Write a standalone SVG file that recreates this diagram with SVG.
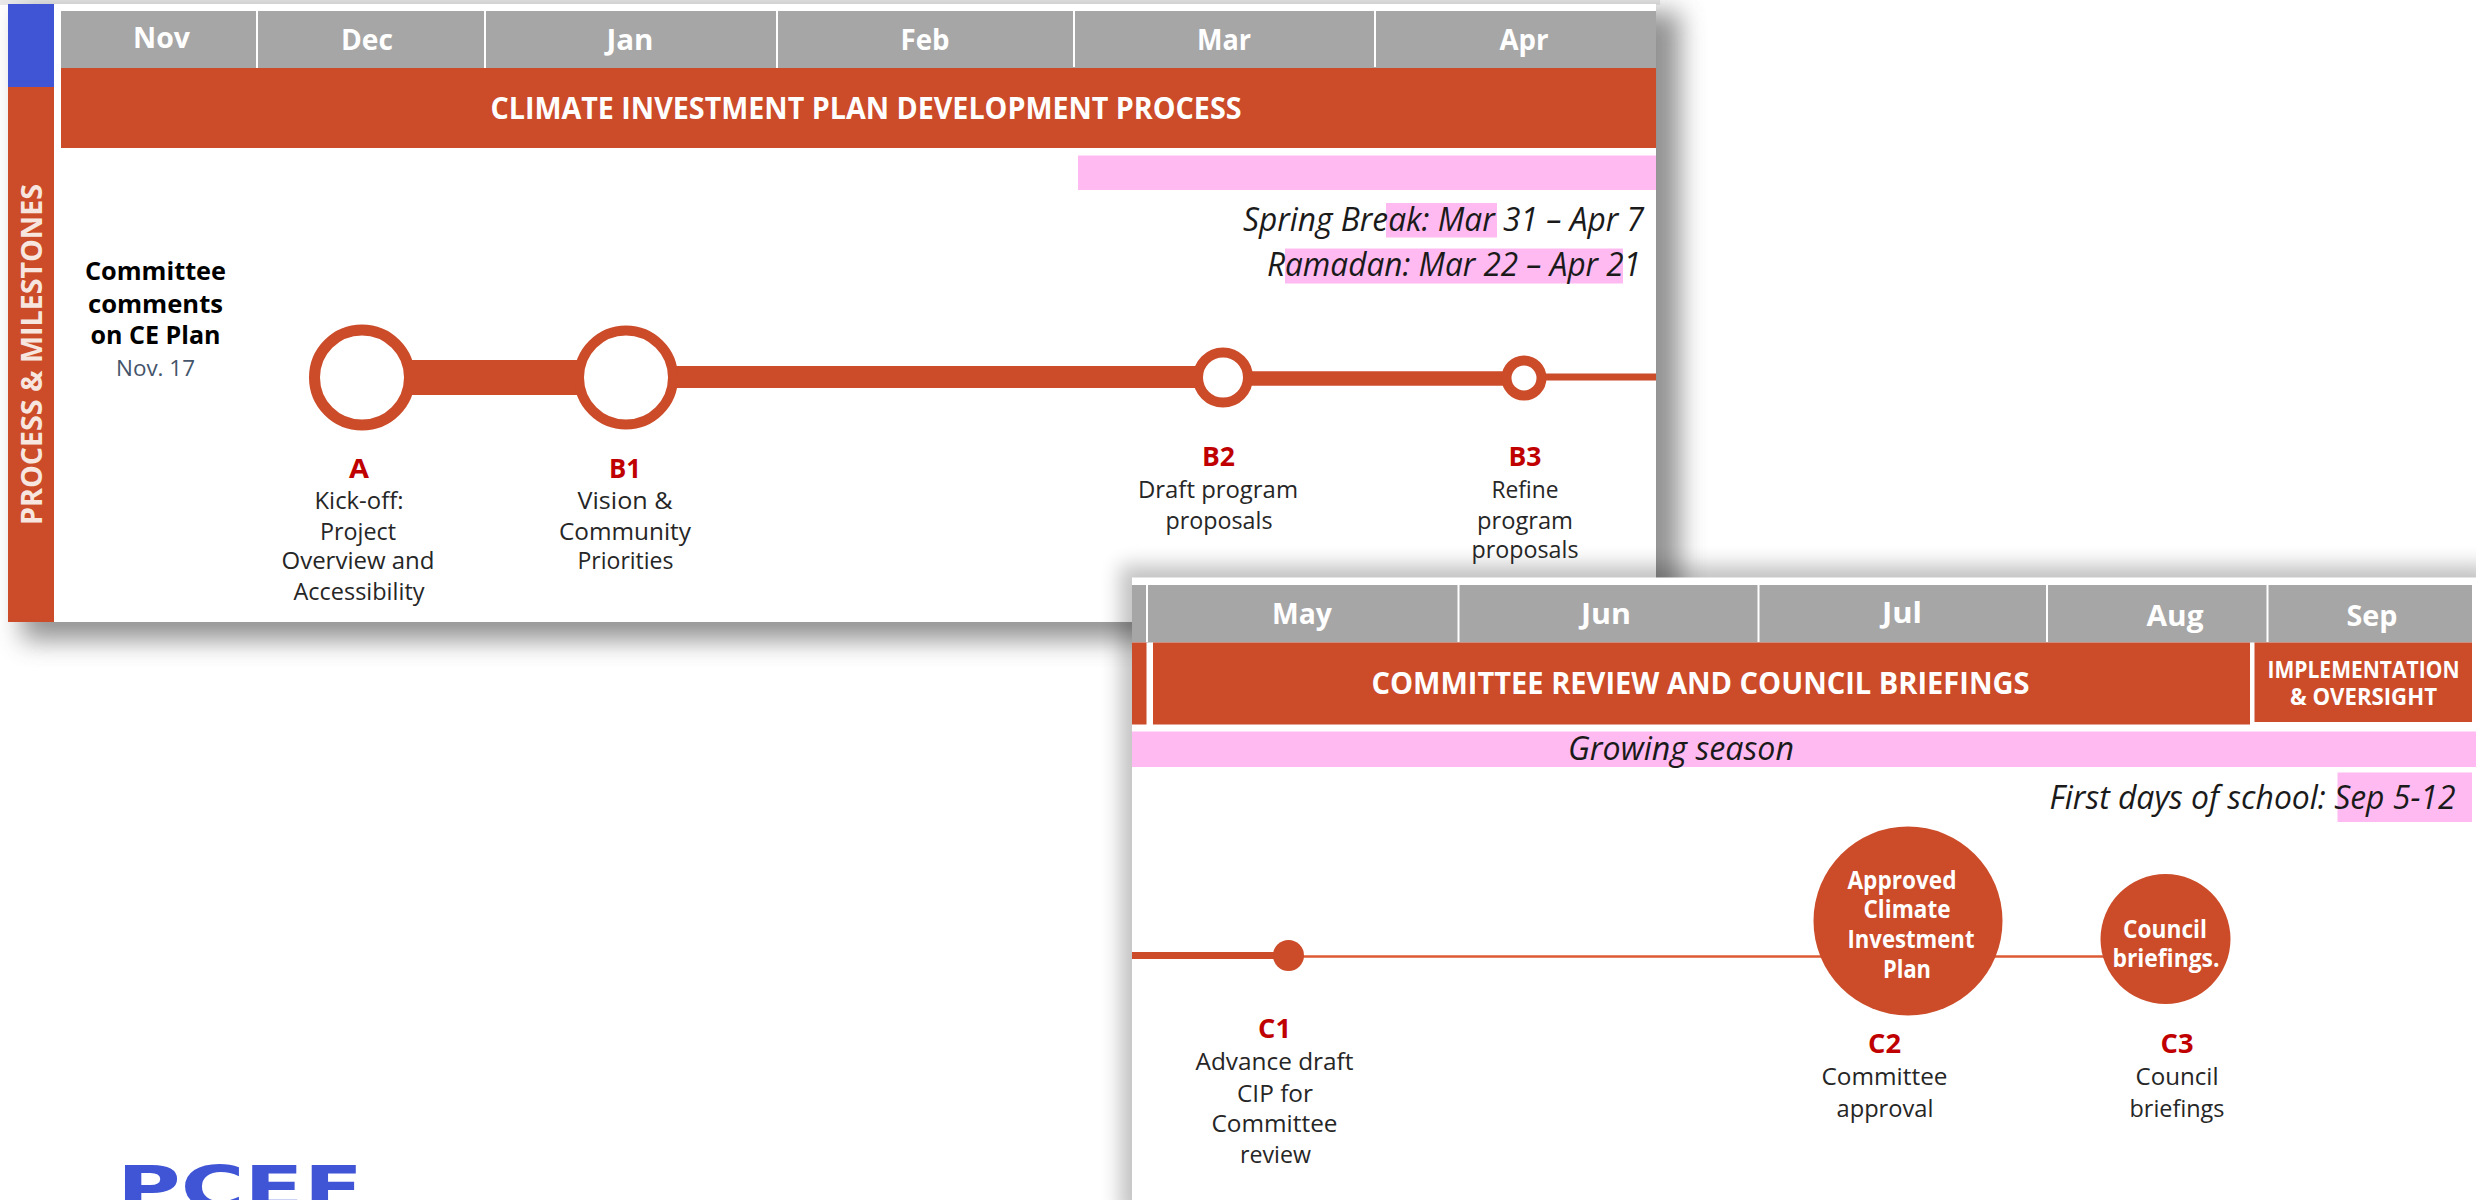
<svg xmlns="http://www.w3.org/2000/svg" width="2476" height="1200" viewBox="0 0 2476 1200">
<defs>
<style>
text{font-family:"Open Sans","Liberation Sans",sans-serif;text-anchor:middle}
.mo{font-size:29px;font-weight:700;fill:#fff}
.hd{font-size:30px;font-weight:700;fill:#fff}
.sm{font-size:22.500px;font-weight:700;fill:#fff}
.it{font-size:33px;font-style:italic;fill:#1a1a1a}
.id{font-size:27px;font-weight:700;fill:#c00000}
.tx{font-size:24px;fill:#262626}
.bk{font-size:25px;font-weight:700;fill:#000}
.ct{font-size:24.500px;font-weight:700;fill:#fff}
.or{fill:#cc4b28}
.gy{fill:#a6a6a6}
.pk{fill:#ffbbf1}
.wl{stroke:#fff;stroke-width:2}
.ring{fill:#fff;stroke:#cc4b28}
</style>
<filter id="sh1" x="-10%" y="-20%" width="120%" height="140%"><feGaussianBlur stdDeviation="13"/></filter>
<filter id="sh2" x="-10%" y="-20%" width="120%" height="140%"><feGaussianBlur stdDeviation="10"/></filter>
</defs>
<rect width="2476" height="1200" fill="#fff"/>

<g id="panel-1">
<rect x="0" y="0" width="1660" height="5" fill="#e9e9e9"/>
<rect x="22" y="12" width="1658" height="628" fill="#777" opacity=".8" filter="url(#sh1)"/>
<rect x="8" y="4" width="1648" height="618" fill="#fff"/>
<rect x="8" y="4" width="46" height="83" fill="#3f55d6"/>
<rect class="or" x="8" y="87" width="46" height="535"/>
<text transform="translate(42 354.500) rotate(-90)" font-size="29" font-weight="700" fill="#f6e6df" textLength="341" lengthAdjust="spacingAndGlyphs">PROCESS &amp; MILESTONES</text>
<rect class="gy" x="61" y="11" width="1595" height="57"/>
<path class="wl" d="M257 11V69M485 11V68M777 11V68M1074 11V67M1375 11V67"/>
<text class="mo" x="161.500" y="47.500" textLength="57" lengthAdjust="spacingAndGlyphs">Nov</text>
<text class="mo" x="367" y="50" textLength="52" lengthAdjust="spacingAndGlyphs">Dec</text>
<text class="mo" x="630" y="50" textLength="47" lengthAdjust="spacingAndGlyphs">Jan</text>
<text class="mo" x="925" y="50" textLength="49" lengthAdjust="spacingAndGlyphs">Feb</text>
<text class="mo" x="1224" y="50" textLength="54" lengthAdjust="spacingAndGlyphs">Mar</text>
<text class="mo" x="1524" y="50" textLength="49" lengthAdjust="spacingAndGlyphs">Apr</text>
<rect class="or" x="61" y="68" width="1595" height="80"/>
<text class="hd" x="866" y="119" textLength="751" lengthAdjust="spacingAndGlyphs">CLIMATE INVESTMENT PLAN DEVELOPMENT PROCESS</text>
<rect class="pk" x="1078" y="155.500" width="578" height="34.500"/>
<rect class="pk" x="1386" y="203" width="111" height="34.500"/>
<rect class="pk" x="1285" y="248.500" width="338" height="35"/>
<text class="it" x="1443.500" y="231" textLength="401" lengthAdjust="spacingAndGlyphs">Spring Break: Mar 31 – Apr 7</text>
<text class="it" x="1454" y="276" textLength="374" lengthAdjust="spacingAndGlyphs">Ramadan: Mar 22 – Apr 21</text>
</g>

<g id="panel-2">
<rect x="1120" y="565" width="1372" height="652" fill="#000" opacity=".24" filter="url(#sh2)"/>
<rect x="1132" y="577.500" width="1344" height="622.500" fill="#fff"/>
<rect class="gy" x="1132" y="585" width="1340" height="57.500"/>
<path class="wl" d="M1147 585V642M1458.500 585V642M1758.500 585V642M2047 585V642M2267.500 585V642"/>
<text class="mo" x="1302" y="624" textLength="60" lengthAdjust="spacingAndGlyphs">May</text>
<text class="mo" x="1606" y="624" textLength="50" lengthAdjust="spacingAndGlyphs">Jun</text>
<text class="mo" x="1902" y="623" textLength="40" lengthAdjust="spacingAndGlyphs">Jul</text>
<text class="mo" x="2175" y="626" textLength="57" lengthAdjust="spacingAndGlyphs">Aug</text>
<text class="mo" x="2372" y="626" textLength="51" lengthAdjust="spacingAndGlyphs">Sep</text>
<rect class="or" x="1132" y="642.500" width="14.500" height="82"/>
<rect class="or" x="1153" y="642.500" width="1097" height="82"/>
<rect class="or" x="2254.500" y="642.500" width="217.500" height="79.500"/>
<text class="hd" x="1700.500" y="694" textLength="658" lengthAdjust="spacingAndGlyphs">COMMITTEE REVIEW AND COUNCIL BRIEFINGS</text>
<text class="sm" x="2363.500" y="678" textLength="192" lengthAdjust="spacingAndGlyphs">IMPLEMENTATION</text>
<text class="sm" x="2363.500" y="704.500" textLength="147" lengthAdjust="spacingAndGlyphs">&amp; OVERSIGHT</text>
<rect class="pk" x="1132" y="731.500" width="1344" height="35.500"/>
<text class="it" x="1681" y="760" font-size="31" textLength="226" lengthAdjust="spacingAndGlyphs">Growing season</text>
<rect class="pk" x="2337.500" y="772.500" width="134.500" height="49.500"/>
<text class="it" x="2252.500" y="809" textLength="406" lengthAdjust="spacingAndGlyphs">First days of school: Sep 5-12</text>
</g>

<g id="connectors" fill="none" stroke="#cc4b28">
<path d="M400 377.500H590" stroke-width="35"/>
<path d="M660 377H1200" stroke-width="22"/>
<path d="M1245 378.500H1510" stroke-width="14.500"/>
<path d="M1535 377H1656" stroke-width="7"/>
<path d="M1132 955.500H1288" stroke-width="7"/>
<path d="M1288 956.500H2110" stroke="#dd5a33" stroke-width="2.500"/>
</g>

<g id="note-committee">
<text class="bk" x="155.500" y="279.500" textLength="141" lengthAdjust="spacingAndGlyphs">Committee</text>
<text class="bk" x="155.500" y="313" textLength="135" lengthAdjust="spacingAndGlyphs">comments</text>
<text class="bk" x="155.500" y="344" textLength="130" lengthAdjust="spacingAndGlyphs">on CE Plan</text>
<text x="155.500" y="375.500" font-size="22" fill="#44546a" textLength="79" lengthAdjust="spacingAndGlyphs">Nov. 17</text>
</g>

<g id="node-A">
<circle class="ring" cx="362" cy="377.500" r="47.500" stroke-width="11"/>
<text class="id" x="359" y="477.500" textLength="20" lengthAdjust="spacingAndGlyphs">A</text>
<text class="tx" x="359" y="509" textLength="89" lengthAdjust="spacingAndGlyphs">Kick-off:</text>
<text class="tx" x="358" y="540" textLength="76" lengthAdjust="spacingAndGlyphs">Project</text>
<text class="tx" x="358" y="569" textLength="153" lengthAdjust="spacingAndGlyphs">Overview and</text>
<text class="tx" x="359" y="600" textLength="131" lengthAdjust="spacingAndGlyphs">Accessibility</text>
</g>

<g id="node-B1">
<circle class="ring" cx="626" cy="377.500" r="47" stroke-width="10"/>
<text class="id" x="625" y="477.500" textLength="32" lengthAdjust="spacingAndGlyphs">B1</text>
<text class="tx" x="625" y="509" textLength="95" lengthAdjust="spacingAndGlyphs">Vision &amp;</text>
<text class="tx" x="625" y="540" textLength="132" lengthAdjust="spacingAndGlyphs">Community</text>
<text class="tx" x="625.500" y="569" textLength="96" lengthAdjust="spacingAndGlyphs">Priorities</text>
</g>

<g id="node-B2">
<circle class="ring" cx="1223" cy="377.500" r="25" stroke-width="10"/>
<text class="id" x="1218.500" y="466" textLength="33" lengthAdjust="spacingAndGlyphs">B2</text>
<text class="tx" x="1218" y="498" textLength="160" lengthAdjust="spacingAndGlyphs">Draft program</text>
<text class="tx" x="1219" y="529" textLength="107" lengthAdjust="spacingAndGlyphs">proposals</text>
</g>

<g id="node-B3">
<circle class="ring" cx="1524" cy="378" r="17.500" stroke-width="10"/>
<text class="id" x="1525" y="466" textLength="33" lengthAdjust="spacingAndGlyphs">B3</text>
<text class="tx" x="1525" y="498" textLength="67" lengthAdjust="spacingAndGlyphs">Refine</text>
<text class="tx" x="1525" y="529" textLength="96" lengthAdjust="spacingAndGlyphs">program</text>
<text class="tx" x="1525" y="558" textLength="107" lengthAdjust="spacingAndGlyphs">proposals</text>
</g>

<g id="node-C1">
<circle class="or" cx="1288.500" cy="955.500" r="15.500"/>
<text class="id" x="1274.500" y="1038" textLength="33" lengthAdjust="spacingAndGlyphs">C1</text>
<text class="tx" x="1274.500" y="1070" textLength="158" lengthAdjust="spacingAndGlyphs">Advance draft</text>
<text class="tx" x="1275" y="1102" textLength="76" lengthAdjust="spacingAndGlyphs">CIP for</text>
<text class="tx" x="1274.500" y="1131.500" textLength="126" lengthAdjust="spacingAndGlyphs">Committee</text>
<text class="tx" x="1275.500" y="1163" textLength="71" lengthAdjust="spacingAndGlyphs">review</text>
</g>

<g id="node-C2">
<circle class="or" cx="1908" cy="921" r="94.500"/>
<text class="ct" x="1902" y="888.500" textLength="109" lengthAdjust="spacingAndGlyphs">Approved</text>
<text class="ct" x="1907" y="918" textLength="87" lengthAdjust="spacingAndGlyphs">Climate</text>
<text class="ct" x="1911" y="948" textLength="127" lengthAdjust="spacingAndGlyphs">Investment</text>
<text class="ct" x="1907" y="977.500" textLength="48" lengthAdjust="spacingAndGlyphs">Plan</text>
<text class="id" x="1884.500" y="1053" textLength="33" lengthAdjust="spacingAndGlyphs">C2</text>
<text class="tx" x="1884.500" y="1085" textLength="126" lengthAdjust="spacingAndGlyphs">Committee</text>
<text class="tx" x="1885" y="1117" textLength="97" lengthAdjust="spacingAndGlyphs">approval</text>
</g>

<g id="node-C3">
<circle class="or" cx="2165.500" cy="939" r="65"/>
<text class="ct" x="2165" y="937.500" textLength="84" lengthAdjust="spacingAndGlyphs">Council</text>
<text class="ct" x="2166" y="967" textLength="107" lengthAdjust="spacingAndGlyphs">briefings.</text>
<text class="id" x="2177" y="1053" textLength="33" lengthAdjust="spacingAndGlyphs">C3</text>
<text class="tx" x="2177" y="1085" textLength="83" lengthAdjust="spacingAndGlyphs">Council</text>
<text class="tx" x="2177" y="1117" textLength="95" lengthAdjust="spacingAndGlyphs">briefings</text>
</g>

<g id="logo">
<text x="240" y="1208" font-size="58" font-weight="700" fill="#3f55d6" style="font-family:'DejaVu Sans',sans-serif" textLength="246" lengthAdjust="spacingAndGlyphs">PCEF</text>
</g>
</svg>
